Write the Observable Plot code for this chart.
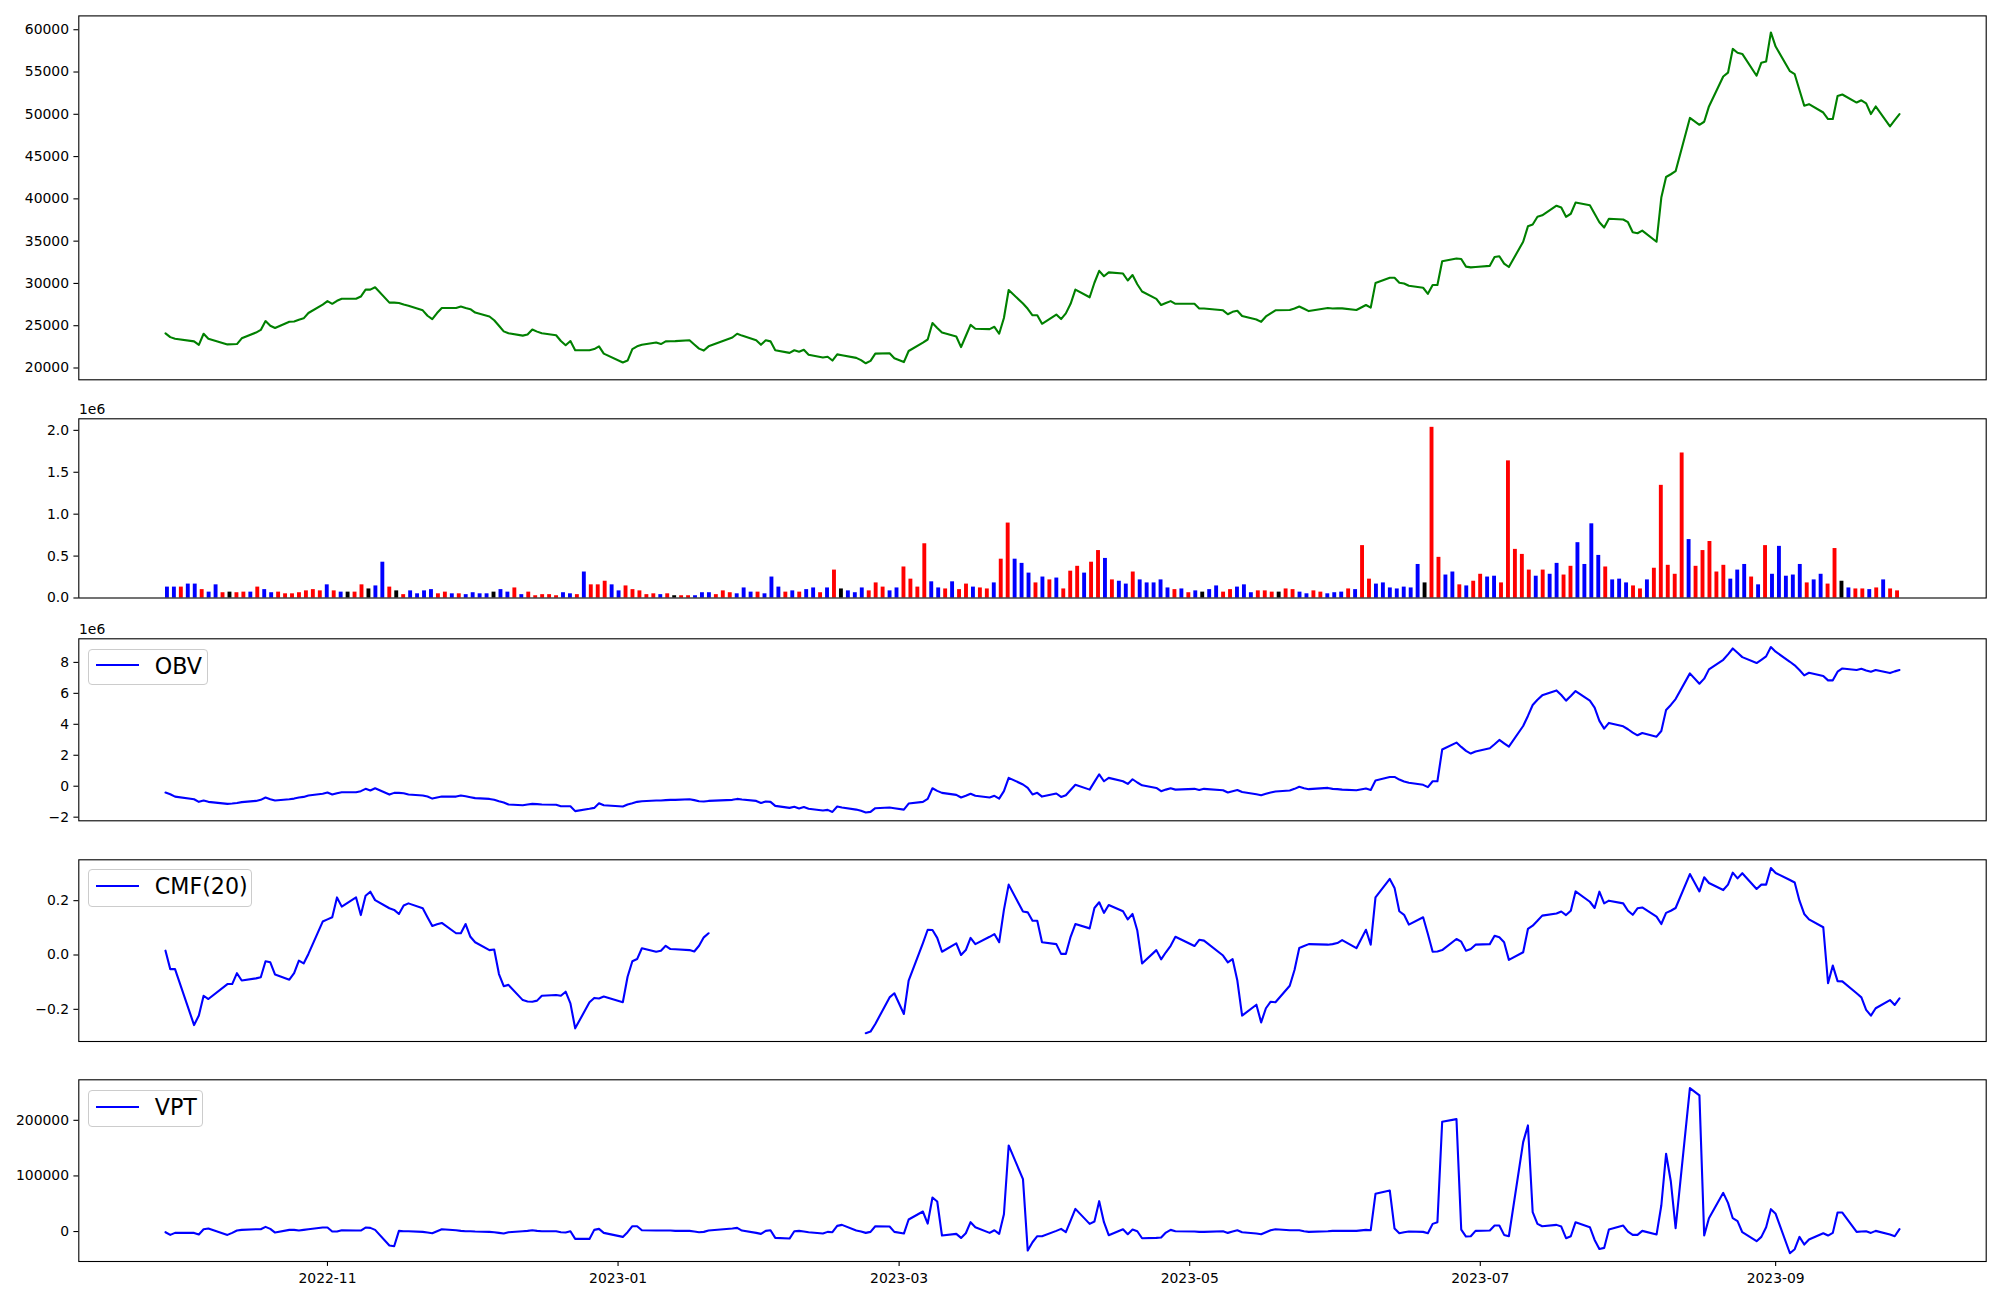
<!DOCTYPE html>
<html>
<head>
<meta charset="utf-8">
<script src="https://cdn.jsdelivr.net/npm/d3@7"></script>
<script src="https://cdn.jsdelivr.net/npm/@observablehq/plot@0.6"></script>
<style>
  html, body { margin: 0; padding: 0; background: #fff; }
  #fig { position: relative; width: 2000px; height: 1300px; font-family: "DejaVu Sans", sans-serif; background: #fff; }
  #fig svg { position: absolute; left: 0; }
  .offset { position: absolute; font-size: 13.9px; line-height: 14px; color: #000; }
  .legend { position: absolute; box-sizing: border-box; border: 1.2px solid #cccccc; border-radius: 4px; background: rgba(255,255,255,0.8); }
  .lg-line { position: absolute; left: 7px; width: 43px; height: 2px; background: #0000ff; }
  .lg-text { position: absolute; left: 65.5px; font-size: 22.2px; line-height: 22px; color: #000; white-space: nowrap; }
</style>
</head>
<body>
<div id="fig"></div>
<script>
// ---------------- data ----------------
const tradingMonths = ["2022-09","2022-10","2022-11","2022-12","2023-01","2023-02","2023-03","2023-04","2023-05","2023-06","2023-07","2023-08","2023-09"];
const tradingDayNums = [
  [28,29,30],
  [4,5,6,7,11,12,13,14,17,18,19,20,21,24,25,26,27,28,31],
  [1,2,3,4,7,8,9,10,11,14,15,16,17,18,21,22,23,24,25,28,29,30],
  [1,2,5,6,7,8,9,12,13,14,15,16,19,20,21,22,23,26,27,28,29],
  [2,3,4,5,6,9,10,11,12,13,16,17,18,19,20,25,26,27,30,31],
  [1,2,3,6,7,8,9,10,13,14,15,16,17,20,21,22,23,24,27,28],
  [2,3,6,7,8,9,10,13,14,15,16,17,20,21,22,23,24,27,28,29,30,31],
  [3,4,5,6,7,10,11,12,13,14,17,18,19,20,21,24,25,26,27,28],
  [2,3,4,8,9,10,11,12,15,16,17,18,19,22,23,24,25,26,30,31],
  [1,2,5,7,8,9,12,13,14,15,16,19,20,21,22,23,26,27,28,29,30],
  [3,4,5,6,7,10,11,12,13,14,17,18,19,20,21,24,25,26,27,28,31],
  [1,2,3,4,7,8,9,10,11,14,16,17,18,21,22,23,24,25,28,29,30,31],
  [1,4,5,6,7,8,11,12,13,14,15,18,19,20,21,22,25,26,27]
];

const closePrice = [
  24100,23650,23460,23150,22740,24050,23460,22790,22800,22830,
  23510,24190,24500,25550,25000,24730,25460,25500,25700,25870,
  26500,27500,27910,27590,27950,28180,28180,28450,29270,29270,
  29540,27730,27730,27680,27500,27360,26820,26180,25780,26500,
  27090,27090,27270,27100,26950,26550,26090,25640,25000,24330,
  24100,23830,23950,24550,24300,24100,23870,23190,22690,23190,
  22100,22100,22240,22560,21700,20650,20880,22240,22560,22740,
  23010,22830,23150,23170,23180,23280,22780,22290,22060,22560,
  23600,24050,23830,23280,22740,23280,23150,22100,21790,22100,
  21920,22150,21560,21240,21330,20880,21610,21500,21200,20930,
  20560,20840,21700,21740,21150,20700,22010,23010,23370,25320,
  24730,24190,23730,22470,23780,25100,24640,24600,24870,24050,
  25910,29220,27620,27000,26230,26230,25230,26320,25780,26460,
  27590,29270,28360,30080,31490,30850,31310,31170,30350,30990,
  29900,29040,28180,27450,27680,27910,27590,27590,27040,27040,
  26820,26360,26640,26770,26140,25730,25460,26090,26460,26820,
  26860,27040,27270,27000,26730,27090,27040,27050,27050,26860,
  27450,27140,30040,30670,30670,30080,29990,29720,29490,28770,
  29810,29810,32620,32940,32890,31990,31900,31940,32080,33120,
  33210,32350,31940,34930,36750,36970,37880,38060,39190,38970,
  37880,38240,39560,39240,38240,37240,36610,37650,37560,37240,
  36060,35930,36250,34930,40150,42590,42910,43270,49570,48760,
  49120,50930,54470,54920,57730,57280,57140,54560,56100,56240,
  59680,58010,55100,54740,52880,51020,51200,50210,49440,49440,
  52160,52340,51390,51660,51300,50030,50930,48580,49300,50030
];

// volume in millions (axis offset 1e6)
const volumeM = [
  .13,.13,.13,.166,.166,.10,.07,.157,.063,.07,
  .063,.07,.07,.13,.10,.063,.07,.05,.05,.063,
  .085,.10,.085,.157,.085,.07,.07,.07,.157,.108,
  .144,.427,.13,.085,.04,.085,.05,.085,.10,.05,
  .07,.05,.05,.04,.063,.05,.05,.07,.10,.07,
  .12,.04,.07,.027,.04,.04,.027,.063,.05,.04,
  .31,.157,.157,.20,.157,.085,.144,.10,.085,.04,
  .05,.04,.05,.027,.027,.027,.027,.063,.063,.04,
  .085,.063,.05,.12,.07,.07,.05,.25,.13,.07,
  .085,.07,.10,.12,.063,.12,.333,.108,.085,.063,
  .12,.085,.18,.13,.085,.12,.37,.225,.13,.647,
  .193,.12,.108,.193,.10,.166,.13,.12,.108,.18,
  .463,.894,.463,.413,.297,.18,.25,.216,.238,.108,
  .32,.378,.297,.427,.566,.472,.216,.20,.166,.31,
  .216,.18,.18,.216,.12,.10,.108,.063,.085,.07,
  .10,.144,.07,.10,.13,.157,.063,.085,.085,.07,
  .07,.108,.10,.07,.05,.085,.07,.05,.063,.07,
  .108,.10,.625,.225,.166,.18,.12,.108,.13,.12,
  .40,.18,2.036,.485,.274,.31,.157,.144,.20,.283,
  .25,.26,.18,1.636,.58,.52,.333,.26,.333,.283,
  .413,.274,.378,.66,.40,.885,.508,.37,.216,.225,
  .18,.144,.108,.216,.355,1.344,.39,.283,1.73,.697,
  .378,.566,.674,.31,.39,.225,.333,.40,.25,.157,
  .625,.283,.616,.26,.274,.40,.18,.216,.283,.166,
  .59,.20,.12,.108,.108,.10,.12,.216,.108,.085
];
// bar colours: r = red, b = blue, k = black
const volumeColorCodes = [
  "bbrbbrbbrk","rrbrbbrrrr","rrrbrbkrrk","bbrkrbbbbr","rbrbbbbkbb",
  "rbrrrrrbbr","brrrbbrrrr","rbrkrrbbbr","rrbbbrbbbr","brbbrbrkbb",
  "brrrbbrrrr","bbrbrrbrrb","rrbbbrbrbr","rrbrrbrbbr","bbbbbrbrbk",
  "bbrrbbbrrr","krrbbrrbbb","rbrrbbbbbb","bkrrbbrbrr","bbrrrrrbrb",
  "brrbbbbrbb","brrbrrrrrb","rrrrrbbbrb","rbbbbbrbbr","rkbrrbrbrr"
];

// OBV in millions (axis offset 1e6)
const obvM = [
  -0.41,-0.52,-0.67,-0.84,-1.01,-0.92,-1.01,-1.14,-1.12,-1.08,
  -1.03,-0.95,-0.88,-0.73,-0.84,-0.92,-0.84,-0.80,-0.73,-0.69,
  -0.60,-0.49,-0.41,-0.54,-0.45,-0.39,-0.39,-0.32,-0.17,-0.28,
  -0.13,-0.54,-0.43,-0.43,-0.45,-0.54,-0.60,-0.67,-0.80,-0.73,
  -0.67,-0.67,-0.60,-0.65,-0.71,-0.77,-0.82,-0.88,-0.97,-1.05,
  -1.18,-1.23,-1.18,-1.14,-1.16,-1.18,-1.20,-1.29,-1.29,-1.29,
  -1.61,-1.46,-1.40,-1.10,-1.23,-1.31,-1.18,-1.10,-1.01,-0.97,
  -0.92,-0.92,-0.90,-0.88,-0.88,-0.84,-0.90,-0.97,-0.99,-0.95,
  -0.88,-0.82,-0.86,-0.95,-1.08,-0.99,-1.01,-1.27,-1.40,-1.33,
  -1.44,-1.35,-1.46,-1.57,-1.53,-1.66,-1.31,-1.38,-1.51,-1.59,
  -1.70,-1.66,-1.42,-1.38,-1.42,-1.51,-1.12,-1.01,-0.82,-0.13,
  -0.30,-0.43,-0.56,-0.73,-0.62,-0.49,-0.62,-0.73,-0.62,-0.80,
  -0.32,0.54,0.11,-0.11,-0.53,-0.43,-0.67,-0.47,-0.69,-0.58,
  -0.24,0.09,-0.22,0.28,0.77,0.32,0.54,0.32,0.15,0.45,
  0.24,0.06,-0.11,-0.32,-0.22,-0.13,-0.22,-0.17,-0.24,-0.17,
  -0.26,-0.41,-0.32,-0.24,-0.37,-0.52,-0.58,-0.49,-0.41,-0.34,
  -0.28,-0.17,-0.04,-0.13,-0.19,-0.11,-0.17,-0.19,-0.22,-0.26,
  -0.15,-0.24,0.37,0.60,0.60,0.43,0.30,0.22,0.09,-0.06,
  0.32,0.32,2.37,2.82,2.54,2.28,2.11,2.24,2.45,2.71,
  2.99,2.77,2.56,3.89,4.54,5.25,5.59,5.87,6.19,5.89,
  5.53,5.83,6.15,5.53,5.08,4.22,3.72,4.09,3.87,3.68,
  3.46,3.29,3.44,3.20,3.57,4.92,5.25,5.63,7.29,6.62,
  6.95,7.55,8.17,8.52,8.90,8.62,8.34,7.96,8.17,8.39,
  8.99,8.69,8.04,7.81,7.51,7.16,7.33,7.12,6.84,6.84,
  7.40,7.61,7.51,7.59,7.48,7.40,7.51,7.31,7.42,7.51
];

// CMF(20); null = no value (gap in the line)
const cmf20 = [
  0.016,-0.052,-0.052,-0.258,-0.223,-0.150,-0.162,-0.107,-0.107,-0.067,
  -0.094,-0.086,-0.082,-0.023,-0.027,-0.072,-0.091,-0.067,-0.021,-0.031,
  0.004,0.123,0.131,0.139,0.212,0.178,0.212,0.147,0.218,0.233,
  0.202,0.172,0.166,0.151,0.182,0.190,0.172,0.139,0.107,0.113,
  0.118,0.080,0.080,0.114,0.067,0.047,0.018,0.020,-0.070,-0.115,
  -0.110,-0.166,-0.171,-0.172,-0.168,-0.150,-0.147,-0.150,-0.135,-0.178,
  -0.270,-0.174,-0.158,-0.160,-0.153,-0.174,-0.080,-0.023,-0.015,0.025,
  0.012,0.016,0.034,0.022,0.021,0.018,0.013,0.034,0.065,0.080,
  null,null,null,null,null,null,null,null,null,null,
  null,null,null,null,null,null,null,null,null,null,
  -0.288,-0.282,-0.254,-0.156,-0.141,-0.217,-0.094,0.044,0.093,0.092,
  0.063,0.012,0.043,0.000,0.018,0.063,0.040,0.067,0.077,0.047,
  0.166,0.259,0.160,0.157,0.126,0.126,0.047,0.040,0.004,0.004,
  0.067,0.114,0.098,0.173,0.194,0.155,0.184,0.161,0.131,0.151,
  0.090,-0.031,0.018,-0.016,0.010,0.034,0.067,0.033,0.056,0.053,
  -0.002,-0.027,-0.015,-0.094,-0.223,-0.183,-0.248,-0.196,-0.172,-0.174,
  -0.113,-0.055,0.026,0.033,0.040,0.038,0.040,0.044,0.055,0.025,
  0.093,0.038,0.212,0.280,0.247,0.161,0.148,0.112,0.139,0.077,
  0.012,0.013,0.018,0.059,0.049,0.016,0.022,0.038,0.040,0.071,
  0.065,0.047,-0.018,0.010,0.096,0.108,0.126,0.145,0.153,0.160,
  0.147,0.163,0.234,0.196,0.173,0.233,0.190,0.200,0.190,0.163,
  0.148,0.172,0.175,0.141,0.114,0.155,0.163,0.173,0.298,0.234,
  0.286,0.265,0.239,0.259,0.303,0.282,0.301,0.243,0.259,0.259,
  0.320,0.302,0.276,0.267,0.200,0.151,0.131,0.102,-0.104,-0.039,
  -0.096,-0.097,-0.141,-0.156,-0.202,-0.223,-0.196,-0.166,-0.184,-0.160
];

const vpt = [
  -1200,-6000,-2400,-2400,-5400,4200,5400,-6000,-2400,1800,
  3000,4200,4200,8400,4800,-1800,3000,3000,1800,3000,
  4200,7200,7200,0,0,2400,1800,1800,7200,6600,
  3000,-25200,-26400,1200,600,600,-600,-1800,-3000,600,
  4200,2400,1200,600,600,0,-600,-1200,-2400,-3600,
  -1200,600,1200,2400,1200,600,600,-1200,-1800,600,
  -13200,-13200,3000,4800,-2400,-9600,-1200,9600,9600,2400,
  1800,1800,1800,1800,1200,1200,0,-1200,-600,1800,
  5400,6600,1800,-2400,-4200,1200,2400,-11400,-12600,600,
  1200,0,-1200,-3600,-600,-1200,10200,12000,1800,0,
  -2400,-600,9600,9000,-600,-3600,21600,36000,14400,61200,
  54000,-7200,-4200,-11400,-3000,16800,7800,-2400,2400,-4200,
  31200,154800,94200,-34200,-19200,-8400,-8400,1200,4800,-1200,
  19800,40800,13800,18000,54600,16800,-6600,4200,-4800,3600,
  600,-12000,-11400,-10800,-1800,3000,600,0,-600,-600,
  600,-2400,0,2400,-1200,-3600,-4800,-1200,2400,4200,
  2400,2400,2400,600,-600,600,1200,1200,1200,1200,
  3000,2400,67800,73800,5400,-3000,-1200,0,-600,-3000,
  13800,16800,197400,202200,3600,-9000,-8400,1200,1800,10800,
  10800,-6000,-8400,160800,190800,34800,13800,9600,12000,9000,
  -12000,-8400,16800,7800,-15000,-31200,-29400,3600,10800,0,
  -6000,-6000,1200,-5400,46800,139800,90000,6000,258000,244800,
  -7200,24000,69600,51600,24000,18600,-1200,-17400,-9600,7800,
  40200,31800,-39000,-31800,-9600,-23400,-14400,-3000,-7200,-2400,
  34200,34200,-600,0,600,-2400,1200,-5400,-8400,4200
];

const xTickMonths = ["2022-11","2023-01","2023-03","2023-05","2023-07","2023-09"];
const priceTicks = [20000,25000,30000,35000,40000,45000,50000,55000,60000];
const volumeTicks = [0,0.5,1.0,1.5,2.0];
const obvTicks = [-2,0,2,4,6,8];
const cmfTicks = [-0.2,0,0.2];
const vptTicks = [0,100000,200000];

// ---------------- build table ----------------
const dates = tradingMonths.flatMap((m, k) =>
  tradingDayNums[k].map(d => new Date(`${m}-${String(d).padStart(2, "0")}T00:00:00Z`)));
const colorName = {r: "#ff0000", b: "#0000ff", k: "#000000"};
const volColors = volumeColorCodes.join("").split("");
const rows = dates.map((date, i) => ({
  date, i,
  price: closePrice[i], vol: volumeM[i], color: colorName[volColors[i]],
  obv: obvM[i], cmf: cmf20[i], vpt: vpt[i]
}));

// matplotlib-like autoscale margins (5%)
function pad([lo, hi], f = 0.05) { const r = hi - lo; return [lo - r * f, hi + r * f]; }
const xDomain = pad([+dates[0], +dates[dates.length - 1]]).map(t => new Date(t));
const barW = 0.56;
const barDomain = pad([-barW / 2, rows.length - 1 + barW / 2]);
const minus = s => s.replace("-", "\u2212");

const fig = document.getElementById("fig");
const W = 2000, ML = 78.3, MR = 14.3;
const baseStyle = {fontFamily: "DejaVu Sans, sans-serif", fontSize: "13.9px", color: "#000", background: "transparent", overflow: "visible"};

function place(svg, top) { svg.style.top = top + "px"; fig.appendChild(svg); }

function yAxis(ticks, fmt) {
  return Plot.axisY({ticks, tickFormat: fmt, tickSize: 4.9, tickPadding: 4.9, label: null, strokeWidth: 1.1});
}

// Panel 1: price
place(Plot.plot({
  width: W, height: 398, marginLeft: ML, marginRight: MR, marginTop: 15.4, marginBottom: 18.7,
  style: baseStyle,
  x: {type: "utc", domain: xDomain, axis: null},
  y: {domain: pad(d3.extent(closePrice))},
  marks: [
    yAxis(priceTicks, d => String(d)),
    Plot.line(rows, {x: "date", y: "price", stroke: "#008000", strokeWidth: 2.1}),
    Plot.frame({stroke: "#000", strokeWidth: 1.1})
  ]
}), 0);

// Panel 2: volume bars (plotted against trading-day index)
place(Plot.plot({
  width: W, height: 221, marginLeft: ML, marginRight: MR, marginTop: 20.3, marginBottom: 21.5,
  style: baseStyle,
  x: {type: "linear", domain: barDomain, axis: null},
  y: {domain: [0, d3.max(volumeM) * 1.05]},
  color: {type: "identity"},
  marks: [
    yAxis(volumeTicks, d3.format(".1f")),
    Plot.rectY(rows, {x1: d => d.i - barW / 2, x2: d => d.i + barW / 2, y1: 0, y2: "vol", fill: "color", inset: 0}),
    Plot.frame({stroke: "#000", strokeWidth: 1.1})
  ]
}), 398);

// Panel 3: OBV
place(Plot.plot({
  width: W, height: 220, marginLeft: ML, marginRight: MR, marginTop: 19.3, marginBottom: 18.7,
  style: baseStyle,
  x: {type: "utc", domain: xDomain, axis: null},
  y: {domain: pad(d3.extent(obvM))},
  marks: [
    yAxis(obvTicks, d => minus(String(d))),
    Plot.line(rows, {x: "date", y: "obv", stroke: "#0000ff", strokeWidth: 2.1}),
    Plot.frame({stroke: "#000", strokeWidth: 1.1})
  ]
}), 619);

// Panel 4: CMF(20)
place(Plot.plot({
  width: W, height: 221, marginLeft: ML, marginRight: MR, marginTop: 20.3, marginBottom: 19,
  style: baseStyle,
  x: {type: "utc", domain: xDomain, axis: null},
  y: {domain: pad(d3.extent(cmf20))},
  marks: [
    yAxis(cmfTicks, d => minus(d3.format(".1f")(d))),
    Plot.line(rows, {x: "date", y: "cmf", stroke: "#0000ff", strokeWidth: 2.1}),
    Plot.frame({stroke: "#000", strokeWidth: 1.1})
  ]
}), 839);

// Panel 5: VPT with date axis
place(Plot.plot({
  width: W, height: 240, marginLeft: ML, marginRight: MR, marginTop: 19.3, marginBottom: 39,
  style: baseStyle,
  x: {type: "utc", domain: xDomain},
  y: {domain: pad(d3.extent(vpt))},
  marks: [
    yAxis(vptTicks, d => String(d)),
    Plot.axisX({ticks: xTickMonths.map(m => new Date(m + "-01T00:00:00Z")), tickFormat: d3.utcFormat("%Y-%m"),
                tickSize: 4.9, tickPadding: 6.5, label: null, strokeWidth: 1.1}),
    Plot.line(rows, {x: "date", y: "vpt", stroke: "#0000ff", strokeWidth: 2.1}),
    Plot.frame({stroke: "#000", strokeWidth: 1.1})
  ]
}), 1060);

// offset texts
function offsetText(left, top, txt) {
  const d = document.createElement("div");
  d.className = "offset"; d.textContent = txt;
  d.style.left = left + "px"; d.style.top = top + "px";
  fig.appendChild(d);
}
offsetText(79, 401.5, "1e6");
offsetText(79, 622, "1e6");

// legends
function legend(left, top, w, h, lineRel, label) {
  const box = document.createElement("div");
  box.className = "legend";
  Object.assign(box.style, {left: left + "px", top: top + "px", width: w + "px", height: h + "px"});
  const ln = document.createElement("div");
  ln.className = "lg-line"; ln.style.top = (lineRel - 2.2) + "px";
  const tx = document.createElement("span");
  tx.className = "lg-text"; tx.style.top = (lineRel - 12) + "px"; tx.textContent = label;
  box.appendChild(ln); box.appendChild(tx);
  fig.appendChild(box);
}
legend(88.3, 649.3, 120, 36, 16.4, "OBV");
legend(88.3, 869.3, 163.4, 37.4, 16.7, "CMF(20)");
legend(88.3, 1090, 115, 36.7, 16.7, "VPT");
</script>
</body>
</html>
